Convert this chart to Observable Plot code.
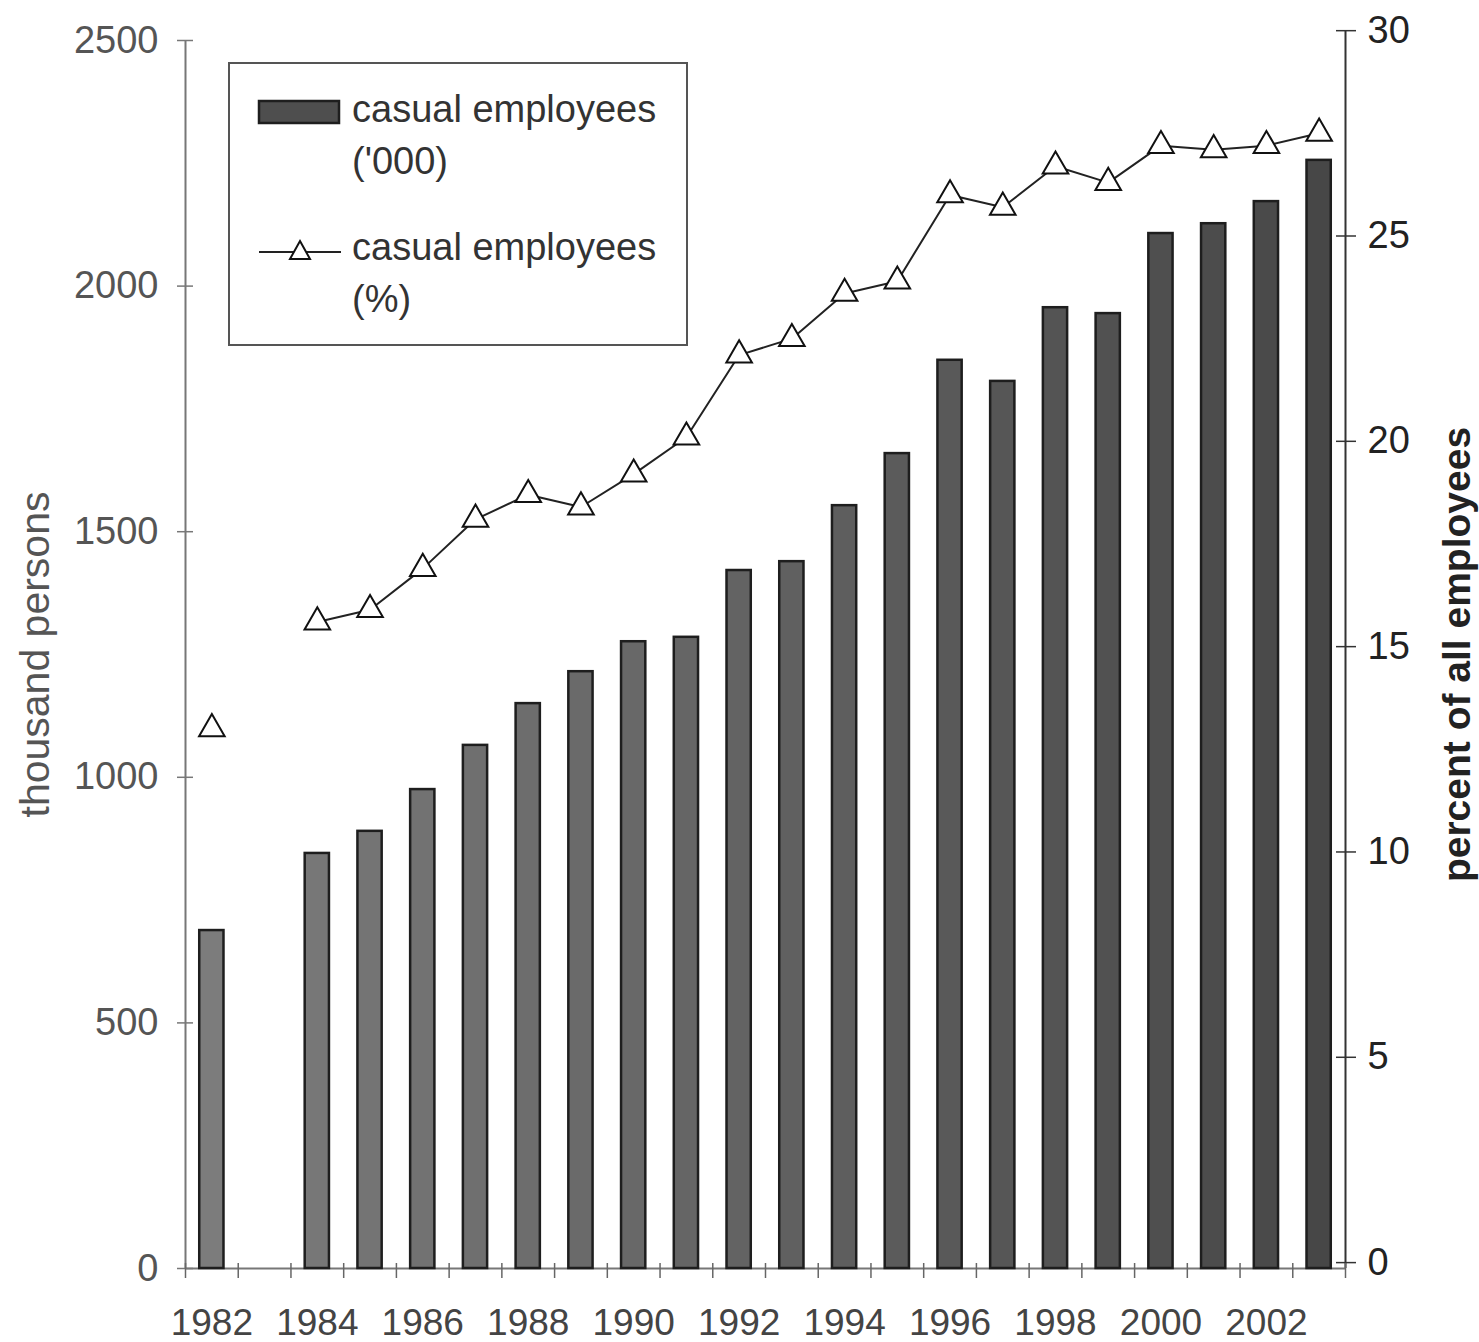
<!DOCTYPE html>
<html>
<head>
<meta charset="utf-8">
<script src="https://cdn.jsdelivr.net/npm/d3@7"></script>
<script src="https://cdn.jsdelivr.net/npm/@observablehq/plot@0.6"></script>
<style>
  html, body { margin: 0; padding: 0; background: #fff; }
  #wrap { position: relative; width: 1479px; height: 1342px; font-family: "Liberation Sans", Arial, sans-serif; }
  #legend { position: absolute; left: 228px; top: 62px; width: 460px; height: 284px; border: 2px solid #555; background: #fff; box-sizing: border-box; }
  .lt { position: absolute; left: 122px; font-size: 38px; color: #333; line-height: 1; white-space: nowrap; }
</style>
</head>
<body>
<div id="wrap">
  <div id="chart"></div>
  <div id="legend">
    <svg width="120" height="282" style="position:absolute;left:0;top:0">
      <rect x="29" y="37" width="80" height="22" fill="#4e4e4e" stroke="#1e1e1e" stroke-width="2.5"></rect>
      <line x1="29" y1="188" x2="111" y2="188" stroke="#222" stroke-width="2"></line>
      <path d="M70,177 L80,195 L60,195 Z" fill="#fff" stroke="#111" stroke-width="2"></path>
    </svg>
    <div class="lt" style="top:26px">casual employees</div>
    <div class="lt" style="top:78px">('000)</div>
    <div class="lt" style="top:164px">casual employees</div>
    <div class="lt" style="top:216px">(%)</div>
  </div>
</div>
<script>
const years     = [1982, 1983, 1984, 1985, 1986, 1987, 1988, 1989, 1990, 1991, 1992, 1993, 1994, 1995, 1996, 1997, 1998, 1999, 2000, 2001, 2002, 2003];
const thousands = [688, null, 845, 890, 975, 1065, 1150, 1215, 1276, 1285, 1421, 1439, 1553, 1659, 1849, 1806, 1956, 1944, 2107, 2127, 2172, 2256];
const percents  = [13.0, null, 15.6, 15.9, 16.9, 18.1, 18.7, 18.4, 19.2, 20.1, 22.1, 22.5, 23.6, 23.9, 26.0, 25.7, 26.7, 26.3, 27.2, 27.1, 27.2, 27.5];
const leftTicks  = [0, 500, 1000, 1500, 2000, 2500];
const rightTicks = [0, 5, 10, 15, 20, 25, 30];
const yearLabels = [1982, 1984, 1986, 1988, 1990, 1992, 1994, 1996, 1998, 2000, 2002];
const yearBounds = [1981.5, 1982.5, 1983.5, 1984.5, 1985.5, 1986.5, 1987.5, 1988.5, 1989.5, 1990.5, 1991.5, 1992.5, 1993.5, 1994.5, 1995.5, 1996.5, 1997.5, 1998.5, 1999.5, 2000.5, 2001.5, 2002.5, 2003.5];

// map the right (percent) axis onto the left (thousand) scale
const pctToK = p => 12 + p * 83.6;
const kToPct = k => (k - 12) / 83.6;

const data = years.map((year, i) => ({year, k: thousands[i], p: percents[i]}));
const bars = data.filter(d => d.k != null);
const pts = data.filter(d => d.p != null);

const font = '"Liberation Sans", Arial, sans-serif';

const chart = Plot.plot({
  width: 1479,
  height: 1342,
  marginLeft: 185,
  marginRight: 134,
  marginTop: 40,
  marginBottom: 74,
  style: {fontFamily: font, fontSize: "37px", background: "#fff", overflow: "visible"},
  x: {domain: [1981.5, 2003.5], axis: null},
  y: {domain: [0, 2500], axis: null},
  color: {type: "linear", domain: [1982, 2003], range: ["#7c7c7c", "#474747"]},
  marks: [
    // axis lines
    Plot.ruleX([1981.5], {y1: 0, y2: 2500, stroke: "#777", strokeWidth: 2}),
    Plot.ruleX([2003.5], {y1: 0, y2: pctToK(30), stroke: "#333", strokeWidth: 2}),
    Plot.ruleY([0], {stroke: "#777", strokeWidth: 2}),
    // left axis ticks (crossing) + labels
    Plot.axisY(leftTicks, {anchor: "left", label: null, tickSize: 16, dx: 8, tickFormat: () => "", stroke: "#777", strokeWidth: 1.5}),
    Plot.axisY(leftTicks, {anchor: "left", label: null, tickSize: 0, tickPadding: 27, tickFormat: d => String(d), fill: "#555", fontSize: 38}),
    // right axis ticks (crossing) + labels
    Plot.axisY(rightTicks.map(pctToK), {anchor: "right", label: null, tickSize: 20, dx: -10, tickFormat: () => "", stroke: "#333", strokeWidth: 1.5}),
    Plot.axisY(rightTicks.map(pctToK), {anchor: "right", label: null, tickSize: 0, tickPadding: 22, tickFormat: d => String(Math.round(kToPct(d))), fill: "#222", fontSize: 38}),
    // x axis ticks between categories + labels
    Plot.axisX(yearBounds, {anchor: "bottom", label: null, tickSize: 15, dy: -5, tickFormat: () => "", stroke: "#666", strokeWidth: 1.5}),
    Plot.axisX(yearLabels, {anchor: "bottom", label: null, tickSize: 0, tickPadding: 40, tickFormat: d => String(d), fill: "#444", fontSize: 37}),
    // axis titles
    Plot.text(["thousand persons"], {frameAnchor: "left", textAnchor: "middle", dx: -150, rotate: -90, fill: "#555", fontSize: 41, text: d => d}),
    Plot.text(["percent of all employees"], {frameAnchor: "right", textAnchor: "middle", dx: 112, rotate: -90, fill: "#222", fontSize: 39, fontWeight: "bold", text: d => d}),
    // bars
    Plot.rectY(bars, {x1: d => d.year - 0.23, x2: d => d.year + 0.23, y: "k", fill: "year", stroke: "#1e1e1e", strokeWidth: 2.5}),
    // percent line
    Plot.line(data, {x: "year", y: d => d.p == null ? NaN : pctToK(d.p), stroke: "#222", strokeWidth: 2}),
    Plot.dot(pts, {x: "year", y: d => pctToK(d.p), symbol: "triangle", r: 9.5, fill: "#fff", stroke: "#111", strokeWidth: 2})
  ]
});
document.getElementById("chart").appendChild(chart);
</script>
</body>
</html>
